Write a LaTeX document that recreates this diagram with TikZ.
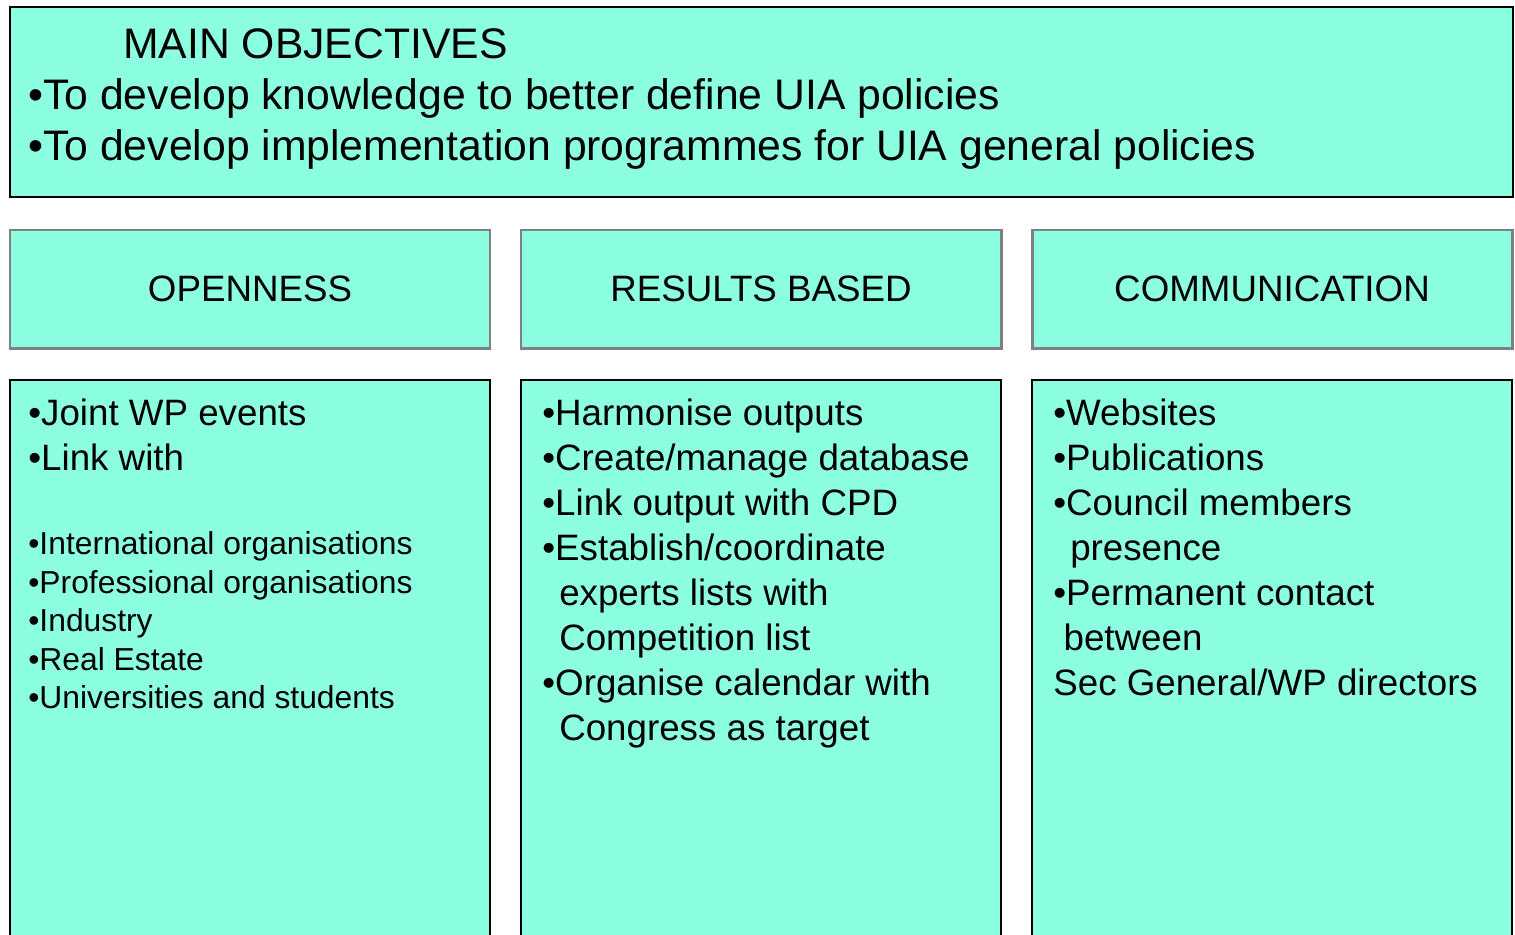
\documentclass[tikz,border=0pt]{standalone}
\usepackage{fontspec}
\setmainfont{Liberation Sans}
\usetikzlibrary{positioning}
\definecolor{aqua}{HTML}{8CFFE0}
\definecolor{rimgray}{HTML}{808080}
\tikzset{
    objective_block/.style={
        draw=black,
        line width=1.1pt,
        fill=aqua,
        rectangle,
        outer sep=0pt,
        anchor=north west,
        minimum width=30.06cm,
        minimum height=3.8cm
    },
    header/.style={
        draw=rimgray,
        line width=1.7pt,
        fill=aqua,
        rectangle,
        outer sep=0pt,
        minimum width=9.6cm,
        minimum height=2.36cm,
        font=\fontsize{20.9}{25}\selectfont
    },
    column/.style={
        draw=black,
        line width=1.1pt,
        fill=aqua,
        rectangle,
        outer sep=0pt,
        minimum width=9.6cm,
        minimum height=11.6cm
    },
    items/.style={
        align=left,
        inner sep=0pt,
        anchor=north west,
        font=\fontsize{20.9}{25.6}\selectfont
    },
    small_items/.style={
        items,
        font=\fontsize{18.1}{21.9}\selectfont
    },
    main_items/.style={
        items,
        font=\fontsize{24.3}{29}\selectfont
    },
}
\begin{document}
\begin{tikzpicture}[node distance = 0.64cm and 0.62cm]
    \useasboundingbox (0,0) rectangle (30.3,-18.7);
    \clip (0,0) rectangle (30.3,-18.7);

    \node[objective_block] (objectives) at (0.2,-0.14) {};
    \node[main_items] (objtxt) at ([xshift=0.36cm, yshift=-0.43cm]objectives.north west)
        {\hspace*{1.9cm}MAIN OBJECTIVES\\
         •To develop knowledge to better define UIA policies\\
         •To develop implementation programmes for UIA general policies};

    % three headings
    \node[header, below=0.66cm of objectives.south west, anchor=north west] (open) {OPENNESS};
    \node[header, right= of open] (results) {RESULTS BASED};
    \node[header, right= of results] (comm) {COMMUNICATION};

    % three columns
    \node[column, below= of open.south west, anchor=north west] (opencol) {};
    \node[column, below= of results.south west, anchor=north west] (resultscol) {};
    \node[column, below= of comm.south west, anchor=north west] (commcol) {};

    \node[items] (opentxt) at ([xshift=0.36cm, yshift=-0.38cm]opencol.north west)
        {•Joint WP events\\•Link with};
    \node[small_items, below=1.2cm of opentxt.south west, anchor=north west] (openlist)
        {•International organisations\\
         •Professional organisations\\
         •Industry\\
         •Real Estate\\
         •Universities and students};

    \node[items] (resultstxt) at ([xshift=0.42cm, yshift=-0.38cm]resultscol.north west)
        {•Harmonise outputs\\
         •Create/manage database\\
         •Link output with CPD\\
         •Establish/coordinate\\
         \hspace*{0.46em}experts lists with\\
         \hspace*{0.46em}Competition list\\
         •Organise calendar with\\
         \hspace*{0.46em}Congress as target};

    \node[items] (commtxt) at ([xshift=0.42cm, yshift=-0.38cm]commcol.north west)
        {•Websites\\
         •Publications\\
         •Council members\\
         \hspace*{0.46em}presence\\
         •Permanent contact\\
         \hspace*{0.28em}between\\
         Sec General/WP directors};
\end{tikzpicture}
\end{document}
